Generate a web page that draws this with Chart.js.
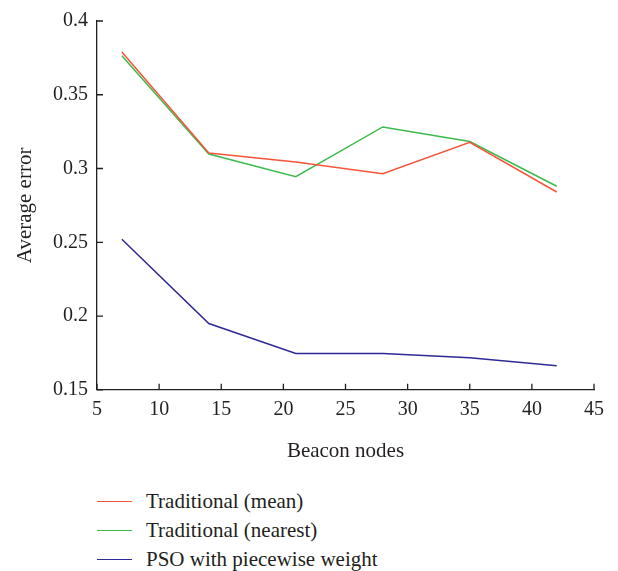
<!DOCTYPE html>
<html><head><meta charset="utf-8">
<script src="https://cdn.jsdelivr.net/npm/chart.js@4.4.1/dist/chart.umd.min.js"></script>
<style>
html,body{margin:0;padding:0;background:#fff;}
#wrap{position:relative;width:618px;height:571px;}
#cbox{position:absolute;left:0;top:0;width:618px;height:470px;}
#legend{position:absolute;left:97px;top:487px;font-family:"Liberation Serif",serif;font-size:21px;color:#231f20;}
.li{display:flex;align-items:center;height:29px;}
.sw{width:35px;height:0;border-top:1.5px solid;margin-right:14px;}
</style></head>
<body><div id="wrap"><div id="cbox"><canvas id="c"></canvas></div><div id="legend"></div></div>
<script>
const beaconNodes = [7, 14, 21, 28, 35, 42];
const meanErr = [0.379, 0.3105, 0.3044, 0.2965, 0.3177, 0.2841];
const nearestErr = [0.3764, 0.3098, 0.2945, 0.3282, 0.3183, 0.288];
const psoErr = [0.252, 0.1949, 0.1746, 0.1746, 0.1717, 0.1663];
const seriesNames = ["Traditional (mean)", "Traditional (nearest)", "PSO with piecewise weight"];
const seriesColors = ["#f4553b", "#3dba4e", "#2e2a95"];
const xTitle = "Beacon nodes";
const yTitle = "Average error";

const values = [meanErr, nearestErr, psoErr];
const datasets = values.map((v, i) => ({
  label: seriesNames[i],
  data: beaconNodes.map((x, j) => ({x: x, y: v[j]})),
  borderColor: seriesColors[i],
  backgroundColor: seriesColors[i],
  borderWidth: 1.5,
  pointRadius: 0,
  tension: 0,
  fill: false
}));

const font = {family: '"Liberation Serif", serif', size: 20};
const titleFont = {family: '"Liberation Serif", serif', size: 21};
const ink = '#231f20';

const inwardTicks = {
  id: 'inwardTicks',
  afterDraw(chart) {
    const ctx = chart.ctx;
    const xs = chart.scales.x, ys = chart.scales.y;
    const a = chart.chartArea;
    ctx.save();
    ctx.strokeStyle = ink;
    ctx.lineWidth = 1.3;
    ctx.beginPath();
    xs.ticks.forEach(t => {
      const px = xs.getPixelForValue(t.value);
      ctx.moveTo(px, a.bottom); ctx.lineTo(px, a.bottom - 6);
    });
    ys.ticks.forEach(t => {
      const py = ys.getPixelForValue(t.value);
      ctx.moveTo(a.left, py); ctx.lineTo(a.left + 6, py);
    });
    ctx.stroke();
    ctx.restore();
  }
};

new Chart(document.getElementById('c'), {
  type: 'line',
  data: {datasets},
  options: {
    responsive: true,
    maintainAspectRatio: false,
    animation: false,
    layout: {padding: {top: 8, right: 24, left: 0, bottom: 2}},
    plugins: {legend: {display: false}, tooltip: {enabled: false}},
    scales: {
      x: {
        type: 'linear', min: 5, max: 45,
        ticks: {stepSize: 5, font, color: ink, padding: 8},
        grid: {display: false, drawTicks: false},
        border: {display: true, color: ink, width: 1.3},
        title: {display: true, text: xTitle, font: titleFont, color: ink, padding: {top: 9}}
      },
      y: {
        min: 0.15, max: 0.4,
        ticks: {stepSize: 0.05, font, color: ink, padding: 9, callback: v => String(+v.toFixed(2))},
        grid: {display: false, drawTicks: false},
        border: {display: true, color: ink, width: 1.3},
        title: {display: true, text: yTitle, font: titleFont, color: ink, padding: {top: 13, bottom: 4}},
        afterFit: s => { s.width = 97; }
      }
    }
  },
  plugins: [inwardTicks]
});

const lg = document.getElementById('legend');
seriesNames.forEach((n, i) => {
  const d = document.createElement('div'); d.className = 'li';
  const sw = document.createElement('span'); sw.className = 'sw'; sw.style.borderColor = seriesColors[i];
  const t = document.createElement('span'); t.textContent = n;
  d.appendChild(sw); d.appendChild(t); lg.appendChild(d);
});
</script></body></html>
